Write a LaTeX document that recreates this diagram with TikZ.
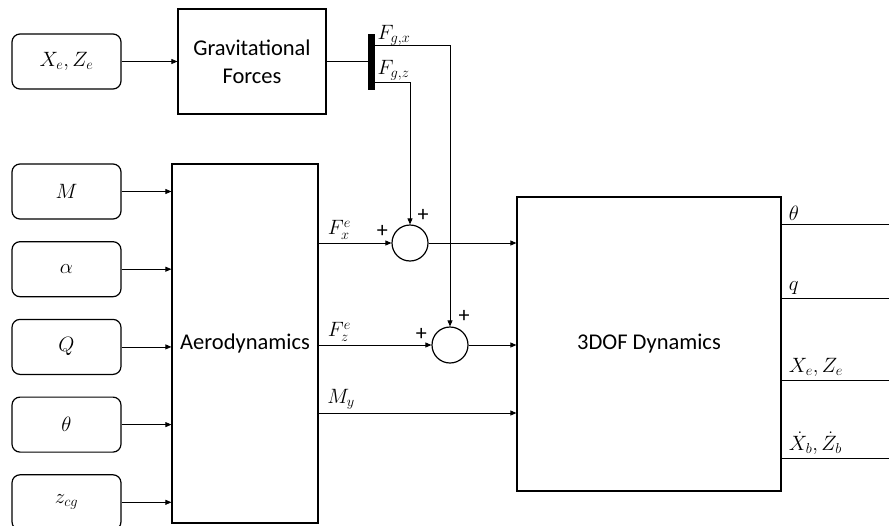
\documentclass[tikz,border=0pt]{standalone}
\usepackage{amsmath}
\usepackage{fontspec}
\setmainfont{Carlito}
\usetikzlibrary{positioning,arrows.meta}

\begin{document}
\begin{tikzpicture}[x=1pt,y=-1pt,>={Triangle[length=6pt,width=5pt]},node distance=21.5pt]
    \tikzstyle{inbox}=[draw,line width=1.2pt,rounded corners=8pt,
      minimum width=109pt,minimum height=55pt,inner sep=0pt,
      font=\fontsize{22}{26}\selectfont]
    \tikzstyle{block}=[draw,line width=1.2pt,inner sep=0pt,align=center,
      font=\fontsize{22.5}{28}\selectfont]
    \tikzstyle{sumnode}=[draw,circle,line width=1.2pt,minimum size=36pt,inner sep=0pt]
    \tikzstyle{sig}=[font=\fontsize{22}{26}\selectfont,inner sep=1pt]
    \tikzstyle{plus}=[font=\fontsize{22}{24}\selectfont,inner sep=0pt]
    \tikzstyle{wire}=[line width=0.7pt]
    \useasboundingbox (0,0) rectangle (889,525);
    % blocks
    \node[inbox] (xz) at (66.5,61.5) {$X_e,Z_e$};
    \node[block,minimum width=148pt,minimum height=105pt] (grav) at (252,61.5)
      {Gravitational\\Forces};
    \node[draw,fill=black,minimum width=6pt,minimum height=55pt,inner sep=0pt] (bus)
      at (371,61.5) {};
    \node[inbox] (m) at (66.5,191.5) {$M$};
    \node[inbox,below=of m] (al) {$\alpha$};
    \node[inbox,below=of al] (qq) {$Q$};
    \node[inbox,below=of qq] (th) {$\theta$};
    \node[inbox,below=of th] (zc) {$z_{cg}$};
    \node[block,minimum width=146pt,minimum height=359pt] (aero) at (245,343.5)
      {Aerodynamics};
    \node[sumnode] (s1) at (410,243) {};
    \node[sumnode] (s2) at (450,345) {};
    \node[block,minimum width=264pt,minimum height=294pt] (dof) at (649,344)
      {3DOF Dynamics};
    % inputs
    \draw[->,wire] (xz.east) -- (grav.west);
    \draw[wire] (grav.east) -- (bus.west);
    \foreach \n in {m,al,qq,th,zc}
      \draw[->,wire] (\n.east) -- (\n.east -| aero.west);
    % gravity forces
    \draw[->,wire] ([yshift=16.5pt]bus.east) node[sig,above right=-2pt and 2pt] {$F_{g,x}$}
      -| (s2.north);
    \draw[->,wire] ([yshift=-20.5pt]bus.east) node[sig,above right=0pt and 2pt] {$F_{g,z}$}
      -| (s1.north);
    % aero forces
    \draw[->,wire] (aero.east |- s1) node[sig,above right=2pt and 8pt] {$F_x^e$} -- (s1.west);
    \draw[->,wire] (s1.east) -- (s1 -| dof.west);
    \draw[->,wire] (aero.east |- s2) node[sig,above right=2pt and 8pt] {$F_z^e$} -- (s2.west);
    \draw[->,wire] (s2.east) -- (s2 -| dof.west);
    \coordinate (my) at (318,413);
    \draw[->,wire] (my) node[sig,above right=2pt and 8pt] {$M_y$} -- (my -| dof.west);
    \node[plus] at ([shift={(-9pt,12pt)}]s1.west) {+};
    \node[plus] at ([shift={(13pt,9pt)}]s1.north) {+};
    \node[plus] at ([shift={(-10pt,11pt)}]s2.west) {+};
    \node[plus] at ([shift={(14pt,10pt)}]s2.north) {+};
    % outputs
    \coordinate (o1) at (889,224);
    \coordinate (o2) at (889,298);
    \coordinate (o3) at (889,380);
    \coordinate (o4) at (889,458);
    \draw[wire] (o1 -| dof.east) node[sig,above right=2pt and 6pt] {$\theta$} -- (o1);
    \draw[wire] (o2 -| dof.east) node[sig,above right=2pt and 6pt] {$q$} -- (o2);
    \draw[wire] (o3 -| dof.east) node[sig,above right=2pt and 6pt] {$X_e,Z_e$} -- (o3);
    \draw[wire] (o4 -| dof.east) node[sig,above right=2pt and 6pt] {$\dot{X}_b,\dot{Z}_b$} -- (o4);
  \end{tikzpicture}
\end{document}
